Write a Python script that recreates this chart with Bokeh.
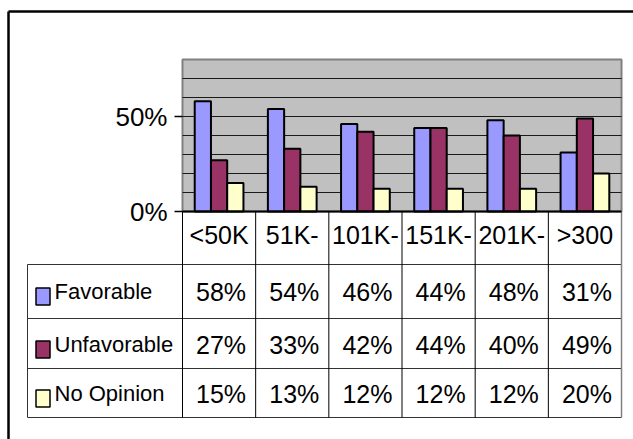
from bokeh.plotting import figure
from bokeh.models import (Range1d, LinearAxis, FixedTicker, PrintfTickFormatter,
                          CustomJSTickFormatter, ColumnDataSource)
from bokeh.core.properties import value
from bokeh.transform import dodge
from bokeh.embed import file_html
from bokeh.resources import INLINE

# ---- data -------------------------------------------------------------
categories = ["<50K", "51K-", "101K-", "151K-", "201K-", ">300"]
series_names = ["Favorable", "Unfavorable", "No Opinion"]
favorable = [58, 54, 46, 44, 48, 31]
unfavorable = [27, 33, 42, 44, 40, 49]
no_opinion = [15, 13, 12, 12, 12, 20]
y_ticks = [0, 50]
grid_levels = [10, 20, 30, 40, 50, 60, 70]
y_max = 80

# ---- styling / layout -------------------------------------------------
colors = ["#9999FF", "#993366", "#FFFFCC"]
FONT_NAME = "Liberation Sans"
FONT = value(FONT_NAME)
W, H = 633, 439
ORIGIN_X, ORIGIN_Y = 182, 211      # pixel position of category 0 / value 0
COL_W = 73.17                       # pixels per category
PX_PER_PCT = 1.9                    # pixels per percentage point
BAR_W = 0.222


def sx(px):
    return (px - ORIGIN_X) / COL_W


def sy(py):
    return (ORIGIN_Y - py) / PX_PER_PCT


n = len(categories)
p = figure(width=W, height=H, output_backend="svg", toolbar_location=None,
           x_range=Range1d(sx(0), sx(W)), y_range=Range1d(sy(H), sy(0)),
           x_axis_location=None, y_axis_location=None, min_border=0,
           outline_line_color=None, background_fill_color="white",
           border_fill_color="white")
p.xgrid.visible = False
p.ygrid.visible = False

# chart frame (left and top edges)
p.segment(x0=[sx(8), sx(8)], y0=[sy(11), sy(11)], x1=[sx(W + 10), sx(8)],
          y1=[sy(11), sy(H + 10)], line_color="black", line_width=2.5)

# plot area background and gridlines
p.quad(left=[0], right=[n], bottom=[0], top=[y_max], fill_color="#C0C0C0",
       line_color="#808080", line_width=2)
p.segment(x0=[0] * len(grid_levels), x1=[n] * len(grid_levels),
          y0=grid_levels, y1=grid_levels, line_color="#1a1a1a", line_width=1)

# clustered bars
src = ColumnDataSource(dict(x=[i + 0.5 for i in range(n)], fav=favorable,
                            unf=unfavorable, noop=no_opinion))
for field, off, col in zip(["fav", "unf", "noop"], [-BAR_W, 0, BAR_W], colors):
    p.vbar(x=dodge("x", off), top=field, bottom=0, width=BAR_W, source=src,
           fill_color=col, line_color="black", line_width=2)

# value axis
yaxis = LinearAxis(fixed_location=0, ticker=FixedTicker(ticks=y_ticks),
                   formatter=PrintfTickFormatter(format="%d%%"),
                   axis_line_color=None, major_tick_out=8, major_tick_in=0,
                   minor_tick_out=0, minor_tick_in=0,
                   major_tick_line_color="black", major_tick_line_width=1.5,
                   major_label_standoff=7, major_label_text_font=FONT_NAME,
                   major_label_text_font_size="26px",
                   major_label_text_color="black")
p.add_layout(yaxis, "left")

# category axis (labels sit in the table's header row)
xaxis = LinearAxis(fixed_location=0, bounds=(0, n),
                   ticker=FixedTicker(ticks=[i + 0.5 for i in range(n)]),
                   formatter=CustomJSTickFormatter(
                       args=dict(cats=categories),
                       code="return cats[Math.round(tick - 0.5)]"),
                   axis_line_color="black", axis_line_width=2,
                   major_tick_out=0, major_tick_in=0, minor_tick_out=0,
                   minor_tick_in=0, major_label_standoff=9,
                   major_label_text_font=FONT_NAME,
                   major_label_text_font_size="25px",
                   major_label_text_color="black")
p.add_layout(xaxis, "below")

# data table grid
row_edges = [264, 318, 368, 417]
tbl_left, tbl_right = sx(27), n
p.segment(x0=[tbl_left] * 4, x1=[tbl_right] * 4, y0=[sy(r) for r in row_edges],
          y1=[sy(r) for r in row_edges], line_color="#333333", line_width=1)
p.segment(x0=[tbl_left], x1=[tbl_left], y0=[sy(264)], y1=[sy(417)],
          line_color="#333333", line_width=1)
p.segment(x0=list(range(n)), x1=list(range(n)), y0=[0] * n, y1=[sy(417)] * n,
          line_color="black", line_width=1)
p.segment(x0=[n], x1=[n], y0=[0], y1=[sy(417)], line_color="#808080",
          line_width=1.5)

# legend keys and series names
row_mid = [291, 344, 393]
p.rect(x=[sx(42.5)] * 3, y=[sy(r + 5) for r in row_mid], width=14, height=17,
       width_units="screen", height_units="screen", fill_color=colors,
       line_color="black", line_width=1.5)
p.text(x=[sx(54)] * 3, y=[sy(r) for r in row_mid], text=series_names,
       text_font=FONT, text_font_size="22px", text_align="left",
       text_baseline="middle", text_color="black")

# table values
tx, ty, tt = [], [], []
for r, vals in zip(row_mid, [favorable, unfavorable, no_opinion]):
    for i, v in enumerate(vals):
        tx.append(i + 0.5 + sx(ORIGIN_X + 2))
        ty.append(sy(r))
        tt.append(f"{v}%")
p.text(x=tx, y=ty, text=tt, text_font=FONT, text_font_size="25px",
       text_align="center", text_baseline="middle", text_color="black")

open("out.html", "w").write(file_html(p, INLINE))
